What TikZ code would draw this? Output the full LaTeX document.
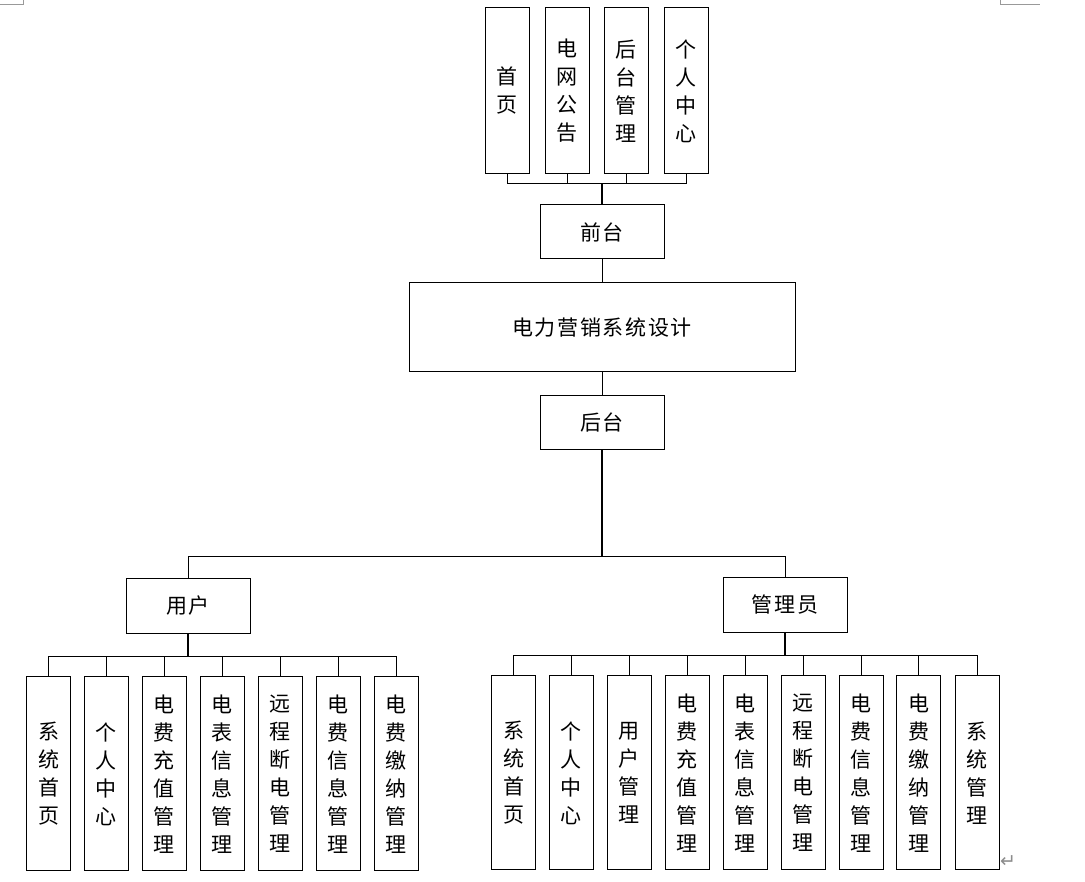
\documentclass[tikz,border=0pt]{standalone}
\usepackage{fontspec}
\newfontfamily\cjk{Noto Sans CJK SC}
\newfontfamily\cjkh[LetterSpace=8]{Noto Sans CJK SC}
\newfontfamily\djv{DejaVu Sans}
\begin{document}
\begin{tikzpicture}[x=1pt,y=1pt,
  box/.style={draw=black,line width=1pt,inner sep=0pt,align=center},
  vtext/.style={box,minimum width=44pt,minimum height=194pt,font=\cjk\fontsize{21}{28}\selectfont},
  ttext/.style={vtext,minimum height=166pt},
  htext/.style={box,minimum width=124pt,minimum height=54pt,font=\cjkh\fontsize{21}{24}\selectfont},
  link/.style={draw=black,line width=1pt},
  trunk/.style={draw=black,line width=1.6pt},
  cornermark/.style={draw=black!40,line width=1pt}
]
\useasboundingbox (0,0) rectangle (1085,882);
% corner marks
\draw[cornermark] (0,877) -- (23,877) -- (23,882);
\draw[cornermark] (1000,882) -- (1000,877) -- (1040,877);
\node[text=black!45,font=\djv\fontsize{19}{19}\selectfont,inner sep=0pt] (ret) at (1008,20) {↵};
% top level
\node[ttext] (t1) at (507,791) {首\\页};
\node[ttext] (t2) at (567,791) {电\\网\\公\\告};
\node[ttext] (t3) at (626,791) {后\\台\\管\\理};
\node[ttext] (t4) at (686,791) {个\\人\\中\\心};
\node[htext] (qt) at (602,650) {前台};
\node[htext,minimum width=386pt,minimum height=89pt] (main) at (602,554.5) {电力营销系统设计};
\node[htext] (ht) at (602,459) {后台};
\node[htext,minimum height=55pt] (user) at (188,276) {用户};
\node[htext,minimum height=55pt] (admin) at (785,277) {管理员};
% user children
\node[vtext] (u1) at (48.5,108) {系\\统\\首\\页};
\node[vtext] (u2) at (106,108) {个\\人\\中\\心};
\node[vtext] (u3) at (164,108) {电\\费\\充\\值\\管\\理};
\node[vtext] (u4) at (222,108) {电\\表\\信\\息\\管\\理};
\node[vtext] (u5) at (280,108) {远\\程\\断\\电\\管\\理};
\node[vtext] (u6) at (338,108) {电\\费\\信\\息\\管\\理};
\node[vtext] (u7) at (396,108) {电\\费\\缴\\纳\\管\\理};
% admin children
\node[vtext] (a1) at (513.5,109) {系\\统\\首\\页};
\node[vtext] (a2) at (571,109) {个\\人\\中\\心};
\node[vtext] (a3) at (629,109) {用\\户\\管\\理};
\node[vtext] (a4) at (687,109) {电\\费\\充\\值\\管\\理};
\node[vtext] (a5) at (745,109) {电\\表\\信\\息\\管\\理};
\node[vtext] (a6) at (803,109) {远\\程\\断\\电\\管\\理};
\node[vtext] (a7) at (861,109) {电\\费\\信\\息\\管\\理};
\node[vtext] (a8) at (918.5,109) {电\\费\\缴\\纳\\管\\理};
\node[vtext] (a9) at (977,109) {系\\统\\管\\理};
% bus coordinates
\coordinate (b1) at (602,698);
\coordinate (b2) at (602,325);
\coordinate (b3) at (188,225);
\coordinate (b4) at (785,226);
% connectors
\foreach \n in {t1,t2,t3,t4} \draw[link] (\n.south) |- (b1);
\draw[trunk] (b1) -- (qt.north);
\draw[link] (qt.south) -- (main.north);
\draw[link] (main.south) -- (ht.north);
\draw[trunk] (ht.south) -- (b2);
\draw[link] (b2) -| (user.north);
\draw[link] (b2) -| (admin.north);
\draw[trunk] (user.south) -- (b3);
\foreach \n in {u1,u2,u3,u4,u5,u6,u7} \draw[link] (b3) -| (\n.north);
\draw[trunk] (admin.south) -- (b4);
\foreach \n in {a1,a2,a3,a4,a5,a6,a7,a8,a9} \draw[link] (b4) -| (\n.north);
\end{tikzpicture}
\end{document}
